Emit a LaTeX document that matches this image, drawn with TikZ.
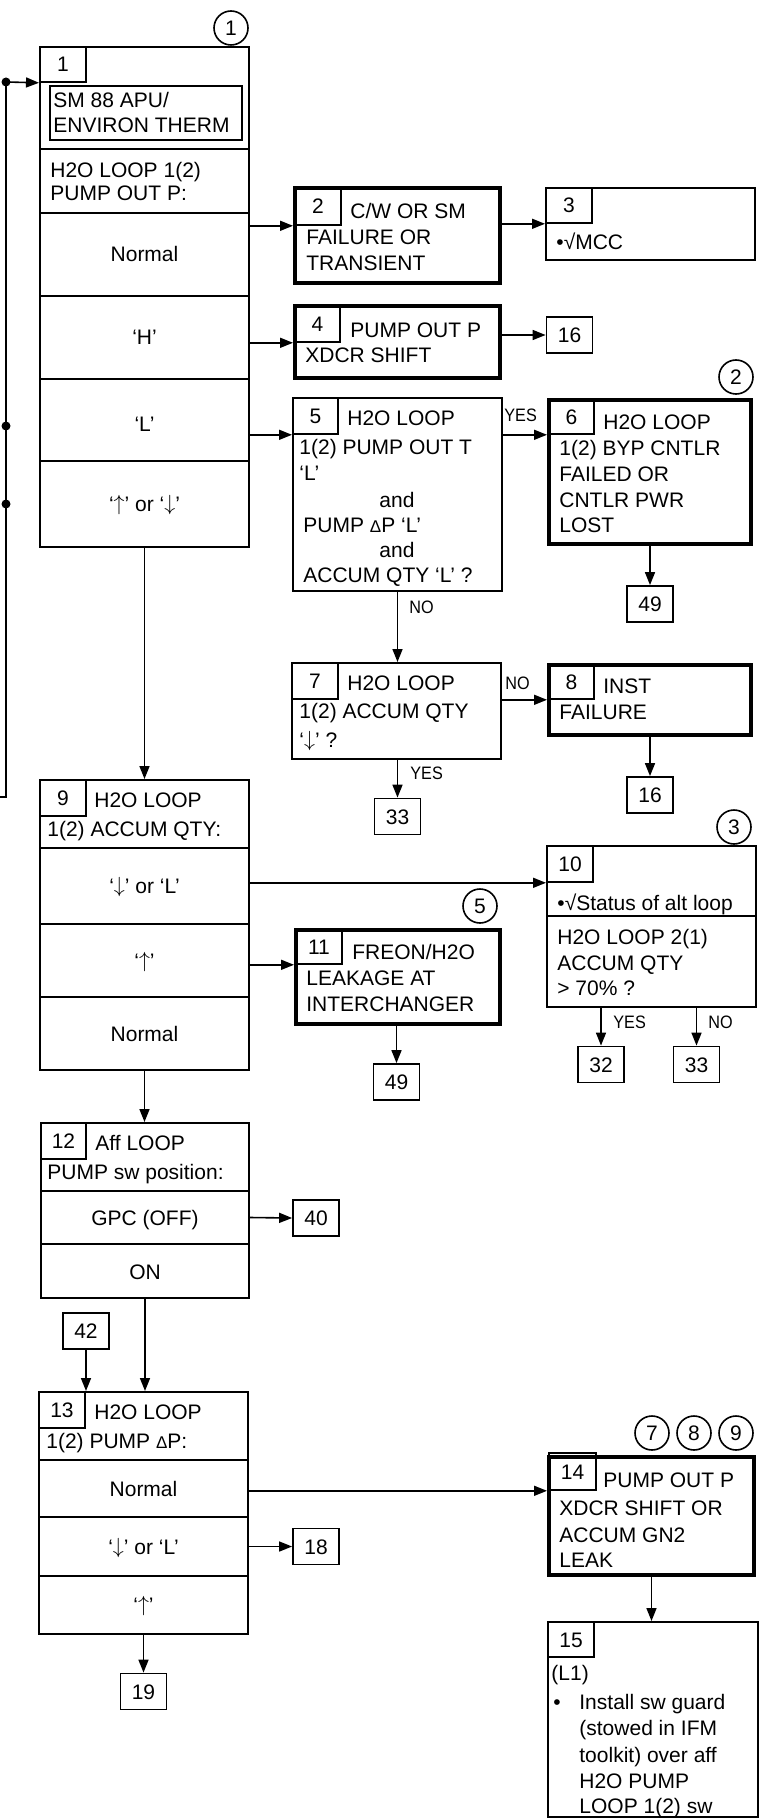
\documentclass[tikz,border=0pt]{standalone}
\usepackage{fontspec}
\setmainfont{Liberation Sans}
\newfontfamily\narrowfont[FakeStretch=0.9]{Liberation Sans}
\newcommand\upar{\raisebox{0.3pt}{$\uparrow$}}
\newcommand\dnar{\raisebox{0.3pt}{$\downarrow$}}
\newcommand\dlt{{\fontsize{8.5}{13}\selectfont Δ}}
\usetikzlibrary{arrows.meta,fit,calc}
\begin{document}
\begin{tikzpicture}[x=0.5pt,y=-0.5pt,
  font=\fontsize{10.5}{13}\selectfont,
  box/.style={draw, line width=1pt, inner sep=0pt},
  tbox/.style={draw, line width=2.2pt, inner sep=0pt},
  nbox/.style={draw, line width=0.8pt, inner sep=0pt},
  row/.style={draw, line width=1pt, inner sep=0pt},
  mid/.style={anchor=center, inner sep=0pt, text height=7.5pt, text depth=0pt},
  refb/.style={draw, line width=0.9pt, inner sep=0pt, minimum width=23pt, minimum height=18pt, text height=7.5pt, text depth=0pt},
  txt/.style={anchor=base west, inner sep=0pt},
  ctxt/.style={anchor=base, inner sep=0pt},
  lab/.style={anchor=base west, inner sep=0pt, font=\narrowfont\fontsize{9}{10}\selectfont},
  circ/.style={draw, circle, line width=0.8pt, minimum size=17pt, inner sep=0pt},
  arr/.style={line width=0.8pt, -{Triangle[length=6.5pt,width=5pt]}},
  conn/.style={line width=0.8pt},
  dot/.style={circle, fill, minimum size=4.5pt, inner sep=0pt}]
\useasboundingbox (0,0) rectangle (761,1818);

% ---------- Box 1 ----------
\node[box, fit={(40,47) (249,547)}] (b1) {};
\node[box, fit={(40,47) (249,149)}] (b1top) {};
\node[nbox, fit={(40,47) (86,82)}] (n1) {};
\node[mid] (n1t) at (n1.center) {1};
\node[box, fit={(50,86) (242,140)}] (sm) {};
\node[txt] (t1a) at (53,107.5) {SM 88 APU/};
\node[txt] (t1b) at (53,132.5) {ENVIRON THERM};
\node[box, fit={(40,149) (249,213)}] (b1h) {};
\node[txt] (t1c) at (50,177.5) {H2O LOOP 1(2)};
\node[txt] (t1d) at (50,200.5) {PUMP OUT P:};
\node[row, fit={(40,213) (249,296)}] (b1r1) {};
\node[row, fit={(40,296) (249,379)}] (b1r2) {};
\node[row, fit={(40,379) (249,461)}] (b1r3) {};
\node[row, fit={(40,461) (249,547)}] (b1r4) {};
\node[mid] (t1r1) at (b1r1.center) {Normal};
\node[mid] (t1r2) at (b1r2.center) {‘H’};
\node[mid] (t1r3) at ([yshift=-2pt]b1r3.center) {‘L’};
\node[mid] (t1r4) at (b1r4.center) {‘\upar’ or ‘\dnar’};
\node[circ] (c1) at (231,28) {1};

% ---------- Box 2 ----------
\node[tbox, fit={(295.2,188.2) (499.8,282.8)}] (b2) {};
\node[nbox, fit={(295,188) (341,225)}] (n2) {};
\node[mid] (n2t) at (n2.center) {2};
\node[txt] (t2a) at (350,218.5) {C/W OR SM};
\node[txt] (t2b) at (306,244.5) {FAILURE OR};
\node[txt] (t2c) at (306,270.5) {TRANSIENT};

% ---------- Box 3 ----------
\node[box, fit={(546,188) (755,260)}] (b3) {};
\node[nbox, fit={(546,188) (592,223)}] (n3) {};
\node[mid] (n3t) at (n3.center) {3};
\node[txt] (t3a) at (556,249.5) {•√MCC};

% ---------- Box 4 ----------
\node[tbox, fit={(295.2,306.2) (499.8,377.8)}] (b4) {};
\node[nbox, fit={(295,306) (340,342)}] (n4) {};
\node[mid] (n4t) at (n4.center) {4};
\node[txt] (t4a) at (350,337.5) {PUMP OUT P};
\node[txt] (t4b) at (305,362.5) {XDCR SHIFT};
\node[refb] (r16a) at (569.5,335) {16};

% ---------- Box 5 ----------
\node[box, fit={(293,398) (502,591)}] (b5) {};
\node[nbox, fit={(293,398) (338,434)}] (n5) {};
\node[mid] (n5t) at (n5.center) {5};
\node[txt] (t5a) at (347,425.5) {H2O LOOP};
\node[txt] (t5b) at (299,454.5) {1(2) PUMP OUT T};
\node[txt] (t5c) at (299,480.5) {‘L’};
\node[ctxt] (t5d) at (397,507.5) {and};
\node[txt] (t5e) at (303,532.5) {PUMP \dlt P ‘L’};
\node[ctxt] (t5f) at (397,557.5) {and};
\node[txt] (t5g) at (303,582.5) {ACCUM QTY ‘L’ ?};

% ---------- Box 6 ----------
\node[tbox, fit={(549.2,400.2) (750.8,543.8)}] (b6) {};
\node[nbox, fit={(549,400) (594,434)}] (n6) {};
\node[mid] (n6t) at (n6.center) {6};
\node[txt] (t6a) at (603,429.5) {H2O LOOP};
\node[txt] (t6b) at (559,455.5) {1(2) BYP CNTLR};
\node[txt] (t6c) at (559,481.5) {FAILED OR};
\node[txt] (t6d) at (559,507.5) {CNTLR PWR};
\node[txt] (t6e) at (559,532.5) {LOST};
\node[circ] (c2) at (736,377) {2};
\node[refb] (r49a) at (650,604) {49};

% ---------- Box 7 ----------
\node[box, fit={(292,663) (501,759)}] (b7) {};
\node[nbox, fit={(292,663) (338,699)}] (n7) {};
\node[mid] (n7t) at (n7.center) {7};
\node[txt] (t7a) at (347,690.5) {H2O LOOP};
\node[txt] (t7b) at (299,718.5) {1(2) ACCUM QTY};
\node[txt] (t7c) at (299,747.5) {‘\dnar’ ?};
\node[refb] (r33a) at (397.5,816.5) {33};

% ---------- Box 8 ----------
\node[tbox, fit={(549.2,665.2) (750.8,734.8)}] (b8) {};
\node[nbox, fit={(549,665) (594,699)}] (n8) {};
\node[mid] (n8t) at (n8.center) {8};
\node[txt] (t8a) at (603,693.5) {INST};
\node[txt] (t8b) at (559,719.5) {FAILURE};
\node[refb] (r16b) at (650,795) {16};

% ---------- Box 9 ----------
\node[box, fit={(40,780) (249,1070)}] (b9) {};
\node[box, fit={(40,780) (249,848)}] (b9h) {};
\node[nbox, fit={(40,780) (86,816)}] (n9) {};
\node[mid] (n9t) at (n9.center) {9};
\node[txt] (t9a) at (94,807.5) {H2O LOOP};
\node[txt] (t9b) at (47,836.5) {1(2) ACCUM QTY:};
\node[row, fit={(40,848) (249,924)}] (b9r1) {};
\node[row, fit={(40,924) (249,997)}] (b9r2) {};
\node[row, fit={(40,997) (249,1070)}] (b9r3) {};
\node[mid] (t9r1) at (b9r1.center) {‘\dnar’ or ‘L’};
\node[mid] (t9r2) at (b9r2.center) {‘\upar’};
\node[mid] (t9r3) at (b9r3.center) {Normal};

% ---------- Box 10 ----------
\node[box, fit={(547,846) (756,1007)}] (b10) {};
\node[box, fit={(547,916) (756,1007)}] (b10b) {};
\node[nbox, fit={(547,846) (593,882)}] (n10) {};
\node[mid] (n10t) at (n10.center) {10};
\node[txt] (t10a) at (557,910.5) {•√Status of alt loop};
\node[txt] (t10b) at (557,944.5) {H2O LOOP 2(1)};
\node[txt] (t10c) at (557,970.5) {ACCUM QTY};
\node[txt] (t10d) at (557,995.5) {> 70\% ?};
\node[circ] (c3) at (734,827) {3};
\node[refb] (r32) at (601,1064.5) {32};
\node[refb] (r33b) at (696.5,1064.5) {33};

% ---------- Box 11 ----------
\node[tbox, fit={(296.2,930.2) (499.8,1023.8)}] (b11) {};
\node[nbox, fit={(296,930) (342,964)}] (n11) {};
\node[mid] (n11t) at (n11.center) {11};
\node[txt] (t11a) at (352,959.5) {FREON/H2O};
\node[txt] (t11b) at (306,985.5) {LEAKAGE AT};
\node[txt] (t11c) at (306,1011.5) {INTERCHANGER};
\node[circ] (c5) at (480,906) {5};
\node[refb] (r49b) at (396.5,1082) {49};

% ---------- Box 12 ----------
\node[box, fit={(41,1123) (249,1298)}] (b12) {};
\node[box, fit={(41,1123) (249,1191)}] (b12h) {};
\node[nbox, fit={(41,1123) (86,1159)}] (n12) {};
\node[mid] (n12t) at (n12.center) {12};
\node[txt] (t12a) at (95,1150.5) {Aff LOOP};
\node[txt] (t12b) at (47,1179.5) {PUMP sw position:};
\node[row, fit={(41,1191) (249,1244)}] (b12r1) {};
\node[row, fit={(41,1244) (249,1298)}] (b12r2) {};
\node[mid] (t12r1) at (b12r1.center) {GPC (OFF)};
\node[mid] (t12r2) at ([yshift=-0.5pt]b12r2.center) {ON};
\node[refb] (r40) at (316,1218) {40};
\node[refb] (r42) at (86,1331) {42};

% ---------- Box 13 ----------
\node[box, fit={(39,1392) (248,1634)}] (b13) {};
\node[box, fit={(39,1392) (248,1460)}] (b13h) {};
\node[nbox, fit={(39,1392) (85,1428)}] (n13) {};
\node[mid] (n13t) at (n13.center) {13};
\node[txt] (t13a) at (94,1419.5) {H2O LOOP};
\node[txt] (t13b) at (46,1448.5) {1(2) PUMP \dlt P:};
\node[row, fit={(39,1460) (248,1517)}] (b13r1) {};
\node[row, fit={(39,1517) (248,1576)}] (b13r2) {};
\node[row, fit={(39,1576) (248,1634)}] (b13r3) {};
\node[mid] (t13r1) at (b13r1.center) {Normal};
\node[mid] (t13r2) at (b13r2.center) {‘\dnar’ or ‘L’};
\node[mid] (t13r3) at (b13r3.center) {‘\upar’};
\node[refb] (r18) at (316,1546.5) {18};
\node[refb] (r19) at (143.5,1691.5) {19};

% ---------- Box 14 ----------
\node[tbox, fit={(549.2,1457.2) (753.8,1574.8)}] (b14) {};
\node[nbox, fit={(549,1453) (596,1490)}] (n14) {};
\node[mid] (n14t) at (n14.center) {14};
\node[txt] (t14a) at (603,1487.5) {PUMP OUT P};
\node[txt] (t14b) at (559,1515.5) {XDCR SHIFT OR};
\node[txt] (t14c) at (559,1542.5) {ACCUM GN2};
\node[txt] (t14d) at (559,1567.5) {LEAK};
\node[circ] (c7) at (652,1433) {7};
\node[circ] (c8) at (694,1433) {8};
\node[circ] (c9) at (736,1433) {9};

% ---------- Box 15 ----------
\node[box, fit={(548,1622) (758,1817)}] (b15) {};
\node[nbox, fit={(548,1622) (594,1657)}] (n15) {};
\node[mid] (n15t) at (n15.center) {15};
\node[txt] (t15a) at (551,1680.5) {(L1)};
\node[txt] (t15b) at (553,1709) {•};
\node[txt] (t15c) at (579,1709) {Install sw guard};
\node[txt] (t15d) at (579,1735.5) {(stowed in IFM};
\node[txt] (t15e) at (579,1762) {toolkit) over aff};
\node[txt] (t15f) at (579,1788.5) {H2O PUMP};
\node[txt] (t15g) at (579,1813) {LOOP 1(2) sw};

% ---------- left return line ----------
\node[dot] (j1) at (6,82) {};
\node[dot] (j2) at (6,426) {};
\node[dot] (j3) at (6,504) {};
\coordinate (lb) at (6,797);
\coordinate (le) at (0,797);
\draw[conn] (j1.center) -- (lb) -- (le);
\draw[arr] (j1.center) -- (b1.west |- n1.south);

% ---------- connectors ----------
\draw[arr] (b1r1.east |- n2.south) -- (b2.west |- n2.south);
\draw[arr] (b2.east |- n3.south) -- (b3.west |- n3.south);
\draw[arr] (b1r2.east |- n4.south) -- (b4.west |- n4.south);
\draw[arr] (b4.east |- r16a.west) -- (r16a.west);
\draw[arr] (b1r3.east |- n5.south) -- (b5.west |- n5.south);
\draw[arr] (b5.east |- n6.south) -- (b6.west |- n6.south);
\draw[arr] (b6.south) -- (r49a.north);
\draw[arr] (b5.south) -- (b5.south |- b7.north);
\draw[arr] (b7.east |- n8.south) -- (b8.west |- n8.south);
\draw[arr] (b8.south) -- (r16b.north);
\draw[arr] (r33a.north |- b7.south) -- (r33a.north);
\draw[arr] (b1.south) -- (b1.south |- b9.north);
\draw[arr] (b9r1.east |- n10.south) -- (b10.west |- n10.south);
\draw[arr] (b9r2.east |- n11.south) -- (b11.west |- n11.south);
\draw[arr] (r49b.north |- b11.south) -- (r49b.north);
\draw[arr] (r32.north |- b10.south) -- (r32.north);
\draw[arr] (r33b.north |- b10.south) -- (r33b.north);
\draw[arr] (b9.south) -- (b9.south |- b12.north);
\draw[arr] (b12r1.east) -- (r40.west);
\draw[arr] (b12.south) -- (b12.south |- b13.north);
\draw[arr] (r42.south) -- (r42.south |- b13.north);
\draw[arr] (b13r1.east |- n14.south) -- (b14.west |- n14.south);
\draw[arr] (b13r2.east) -- (r18.west);
\draw[arr] (b13.south) -- (r19.north);
\draw[arr] (b14.south) -- (b14.south |- b15.north);

% ---------- YES / NO labels ----------
\node[lab] (y56) at (504,421.5) {YES};
\node[lab] (n57) at (409,613.5) {NO};
\node[lab] (n78) at (505,689.5) {NO};
\node[lab] (y733) at (410,779.5) {YES};
\node[lab] (y1032) at (613,1028.5) {YES};
\node[lab] (n1033) at (708,1028.5) {NO};
\end{tikzpicture}
\end{document}
